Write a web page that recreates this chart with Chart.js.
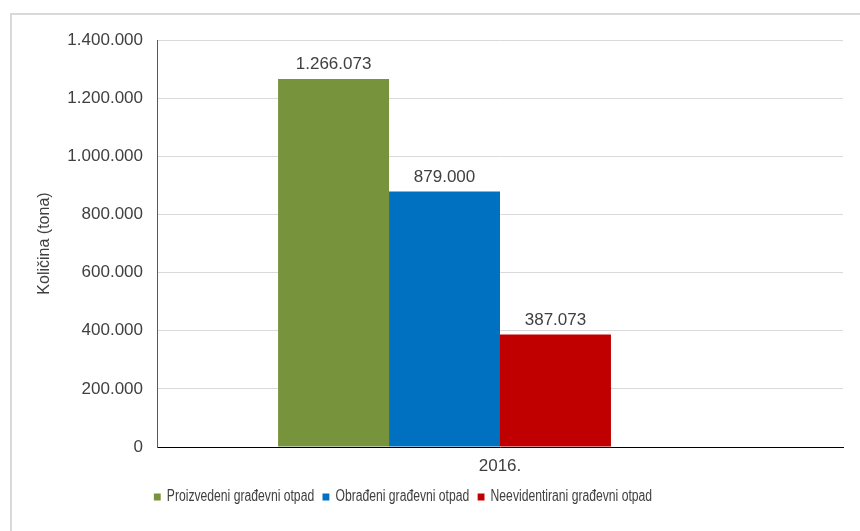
<!DOCTYPE html>
<html>
<head>
<meta charset="utf-8">
<script src="https://cdn.jsdelivr.net/npm/chart.js@4.4.0/dist/chart.umd.min.js"></script>
<style>
  html, body { margin: 0; padding: 0; background: #fff; overflow: hidden; }
  #wrap { position: relative; width: 860px; height: 531px; overflow: hidden; }
  #frame { position: absolute; left: 10px; top: 13px; width: 900px; height: 600px; border: 2px solid #d9d9d9; box-sizing: border-box; }
  #myChart { position: absolute; left: 0; top: 0; }
</style>
</head>
<body>
<div id="wrap">
  <div id="frame"></div>
  <canvas id="myChart" width="860" height="531"></canvas>
</div>
<script>
// Data
const categories = ['2016.'];
const proizvedeni = [1266073];
const obradeni = [879000];
const neevidentirani = [387073];
const emptySlot = [null];
const yTicks = [0, 200000, 400000, 600000, 800000, 1000000, 1200000, 1400000];

const txt = '#404040';
const fontMain = "'Liberation Sans', Arial, sans-serif";

function fmt(n) {
  return String(n).replace(/\B(?=(\d{3})+(?!\d))/g, '.');
}

// value labels above bars
const barLabels = {
  id: 'barLabels',
  afterDatasetsDraw(chart) {
    const c = chart.ctx;
    c.save();
    c.font = '17px ' + fontMain;
    c.fillStyle = txt;
    c.textAlign = 'center';
    c.textBaseline = 'bottom';
    chart.data.datasets.forEach((ds, i) => {
      const meta = chart.getDatasetMeta(i);
      meta.data.forEach((bar, j) => {
        const v = ds.data[j];
        if (v == null) return;
        c.fillText(fmt(v), bar.x, bar.y - 6);
      });
    });
    c.restore();
  }
};

// legend sits left of centre and uses a narrow face in the original
const legendShift = {
  id: 'legendShift',
  afterLayout(chart) {
    const lg = chart.legend;
    lg.left = 0;
    lg.right = 806;
    if (!lg._squeezed) {
      const orig = lg.draw;
      lg.draw = function () {
        const c = this.ctx;
        c.save();
        c.translate(403, 0);
        c.scale(0.76, 1);
        c.translate(-403, 0);
        orig.apply(this, arguments);
        c.restore();
      };
      lg._squeezed = true;
    }
  }
};

const ctx = document.getElementById('myChart');
new Chart(ctx, {
  type: 'bar',
  data: {
    labels: categories,
    datasets: [
      { label: 'Proizvedeni građevni otpad', data: proizvedeni, backgroundColor: '#77933C' },
      { label: 'Obrađeni građevni otpad', data: obradeni, backgroundColor: '#0070C0' },
      { label: 'Neevidentirani građevni otpad', data: neevidentirani, backgroundColor: '#C00000' },
      { label: '', data: emptySlot, backgroundColor: '#ffffff' }
    ]
  },
  plugins: [barLabels, legendShift],
  options: {
    responsive: false,
    animation: false,
    layout: { padding: { top: 40, right: 17, bottom: 16, left: 0 } },
    datasets: { bar: { categoryPercentage: 0.647, barPercentage: 1 } },
    plugins: {
      tooltip: { enabled: false },
      legend: {
        position: 'bottom',
        labels: {
          boxWidth: 9,
          boxHeight: 7,
          padding: 11,
          color: txt,
          font: { family: fontMain, size: 16 },
          filter: item => item.text !== ''
        }
      }
    },
    scales: {
      x: {
        grid: { display: false, drawTicks: false },
        border: { display: true, color: '#000000', width: 1 },
        ticks: { color: txt, font: { family: fontMain, size: 17 }, padding: 9 },
        afterFit(scale) { scale.height = 31; }
      },
      y: {
        min: 0,
        max: 1400000,
        afterBuildTicks(scale) { scale.ticks = yTicks.map(v => ({ value: v })); },
        grid: { color: '#d9d9d9', drawTicks: false },
        border: { color: '#595959', width: 1 },
        ticks: { color: txt, font: { family: fontMain, size: 17 }, padding: 14, callback: v => fmt(v) },
        title: { display: true, text: 'Količina (tona)', color: txt, font: { family: fontMain, size: 16 }, padding: { top: 35 } },
        afterFit(scale) { scale.width = 157; }
      }
    }
  }
});
</script>
</body>
</html>
